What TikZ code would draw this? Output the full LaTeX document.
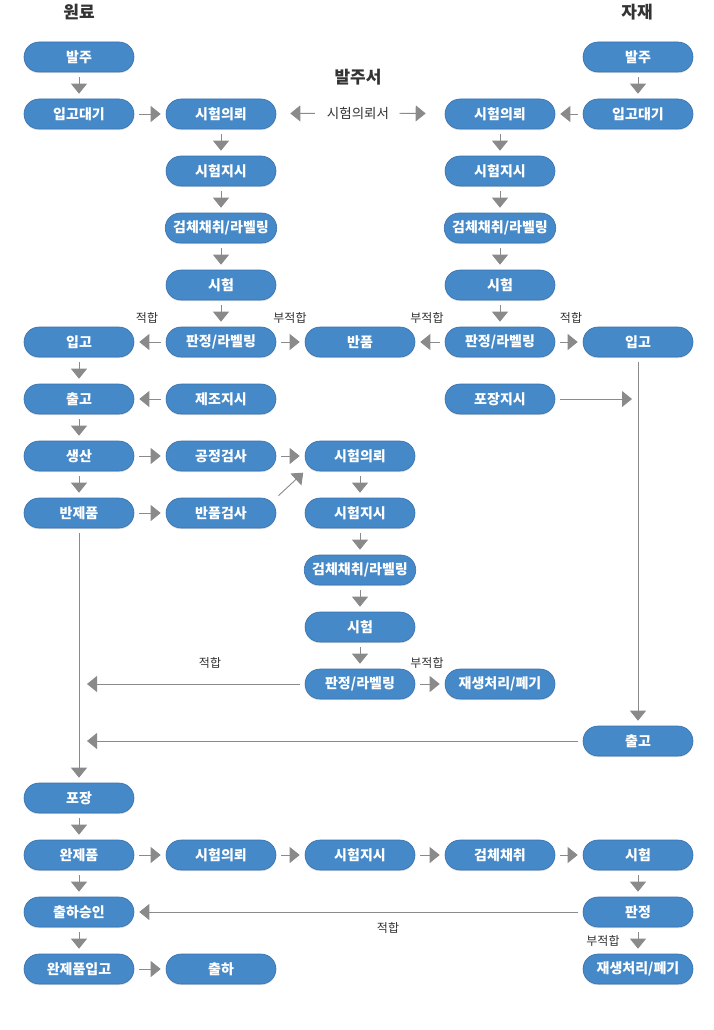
\documentclass[tikz,border=0pt]{standalone}
\usepackage{fontspec}
\setmainfont{Noto Sans CJK KR}
\usetikzlibrary{arrows.meta,shadows}
\definecolor{nodeblue}{HTML}{4589C9}
\definecolor{nodeedge}{HTML}{3A72AE}
\definecolor{arrgray}{HTML}{8A8A8A}
\definecolor{txtgray}{HTML}{333333}
\tikzset{
  proc/.style={rectangle, rounded corners=15pt, minimum width=110pt, minimum height=30pt,
    fill=nodeblue, draw=nodeedge, line width=0.6pt, text=white, inner xsep=8pt, inner ysep=0pt,
    font=\fontsize{14}{14}\selectfont\bfseries,
    drop shadow={shadow xshift=0pt, shadow yshift=-1.2pt, opacity=0.25}},
  arr/.style={draw=arrgray, line width=0.9pt, -{Triangle[width=16pt,length=10pt]}, arrgray,
    shorten <=5pt, shorten >=5pt},
  lbl/.style={text=txtgray, font=\fontsize{12}{12}\selectfont, inner sep=0pt},
  hdr/.style={text=txtgray, font=\fontsize{17}{17}\selectfont\bfseries, inner sep=0pt},
}
\begin{document}
\begin{tikzpicture}[x=1pt,y=-1pt]
\useasboundingbox (0,0) rectangle (713,1030);
% columns
\def\ca{79}\def\cb{221}\def\cc{360}\def\cd{500}\def\ce{638}
% headers
\node[hdr] (h1) at (79,12) {원료};
\node[hdr] (h2) at (637,12) {자재};
\node[hdr] (h3) at (358,77) {발주서};
\node[text=txtgray, font=\fontsize{13.5}{13.5}\selectfont, inner sep=0pt] (sreq) at (358,113) {시험의뢰서};
% column 1
\node[proc] (a0) at (\ca,57) {발주};
\node[proc] (a1) at (\ca,114) {입고대기};
\node[proc] (a5) at (\ca,342) {입고};
\node[proc] (a6) at (\ca,399) {출고};
\node[proc] (a7) at (\ca,456) {생산};
\node[proc] (a8) at (\ca,513) {반제품};
\node[proc] (a13) at (\ca,798) {포장};
\node[proc] (a14) at (\ca,855) {완제품};
\node[proc] (a15) at (\ca,912) {출하승인};
\node[proc] (a16) at (\ca,969) {완제품입고};
% column 2
\node[proc] (b1) at (\cb,114) {시험의뢰};
\node[proc] (b2) at (\cb,171) {시험지시};
\node[proc] (b3) at (\cb,228) {검체채취/라벨링};
\node[proc] (b4) at (\cb,285) {시험};
\node[proc] (b5) at (\cb,342) {판정/라벨링};
\node[proc] (b6) at (\cb,399) {제조지시};
\node[proc] (b7) at (\cb,456) {공정검사};
\node[proc] (b8) at (\cb,513) {반품검사};
\node[proc] (b14) at (\cb,855) {시험의뢰};
\node[proc] (b16) at (\cb,969) {출하};
% column 3
\node[proc] (c5) at (\cc,342) {반품};
\node[proc] (c7) at (\cc,456) {시험의뢰};
\node[proc] (c8) at (\cc,513) {시험지시};
\node[proc] (c9) at (\cc,570) {검체채취/라벨링};
\node[proc] (c10) at (\cc,627) {시험};
\node[proc] (c11) at (\cc,684) {판정/라벨링};
\node[proc] (c14) at (\cc,855) {시험지시};
% column 4
\node[proc] (d1) at (\cd,114) {시험의뢰};
\node[proc] (d2) at (\cd,171) {시험지시};
\node[proc] (d3) at (\cd,228) {검체채취/라벨링};
\node[proc] (d4) at (\cd,285) {시험};
\node[proc] (d5) at (\cd,342) {판정/라벨링};
\node[proc] (d6) at (\cd,399) {포장지시};
\node[proc] (d11) at (\cd,684) {재생처리/폐기};
\node[proc] (d14) at (\cd,855) {검체채취};
% column 5
\node[proc] (e0) at (\ce,57) {발주};
\node[proc] (e1) at (\ce,114) {입고대기};
\node[proc] (e5) at (\ce,342) {입고};
\node[proc] (e12) at (\ce,741) {출고};
\node[proc] (e14) at (\ce,855) {시험};
\node[proc] (e15) at (\ce,912) {판정};
\node[proc] (e16) at (\ce,969) {재생처리/폐기};
% free ends
\coordinate (pk) at (632,399);
\coordinate (m1) at (87,684);
\coordinate (m2) at (87,741);
% connectors column 1
\draw[arr] (a0) -- (a1);
\draw[arr] (a1) -- (b1);
\draw[arr] (b1) -- (b2);
\draw[arr] (b2) -- (b3);
\draw[arr] (b3) -- (b4);
\draw[arr] (b4) -- (b5);
\draw[arr] (b5) -- (a5);
\draw[arr] (b5) -- (c5);
\draw[arr] (a5) -- (a6);
\draw[arr] (b6) -- (a6);
\draw[arr] (a6) -- (a7);
\draw[arr] (a7) -- (b7);
\draw[arr] (b7) -- (c7);
\draw[arr] (a7) -- (a8);
\draw[arr] (a8) -- (b8);
\draw[arr, shorten <=3pt, shorten >=2pt] (b8.north east) -- (c7.south west);
\draw[arr] (c7) -- (c8);
\draw[arr] (c8) -- (c9);
\draw[arr] (c9) -- (c10);
\draw[arr] (c10) -- (c11);
\draw[arr, shorten >=0pt] (c11) -- (m1);
\draw[arr] (c11) -- (d11);
\draw[arr] (a8) -- (a13);
\draw[arr] (a13) -- (a14);
\draw[arr] (a14) -- (b14);
\draw[arr] (b14) -- (c14);
\draw[arr] (c14) -- (d14);
\draw[arr] (d14) -- (e14);
\draw[arr] (e14) -- (e15);
\draw[arr] (e15) -- (a15);
\draw[arr] (e15) -- (e16);
\draw[arr] (a14) -- (a15);
\draw[arr] (a15) -- (a16);
\draw[arr] (a16) -- (b16);
% column 4/5
\draw[arr] (e0) -- (e1);
\draw[arr] (e1) -- (d1);
\draw[arr] (d1) -- (d2);
\draw[arr] (d2) -- (d3);
\draw[arr] (d3) -- (d4);
\draw[arr] (d4) -- (d5);
\draw[arr] (d5) -- (c5);
\draw[arr] (d5) -- (e5);
\draw[arr, shorten >=0pt] (d6) -- (pk);
\draw[arr] (e5) -- (e12);
\draw[arr, shorten >=0pt] (e12) -- (m2);
% request document arrows
\draw[arr, shorten <=12pt, shorten >=14pt] (sreq) -- (b1);
\draw[arr, shorten <=10pt, shorten >=19pt] (sreq) -- (d1);
% labels
\node[lbl] (l1) at (147,318) {적합};
\node[lbl] (l2) at (290,318) {부적합};
\node[lbl] (l3) at (427,318) {부적합};
\node[lbl] (l4) at (571,318) {적합};
\node[lbl] (l5) at (210,663) {적합};
\node[lbl] (l6) at (427,663) {부적합};
\node[lbl] (l7) at (388,928) {적합};
\node[lbl] (l8) at (603,941) {부적합};
\end{tikzpicture}
\end{document}
